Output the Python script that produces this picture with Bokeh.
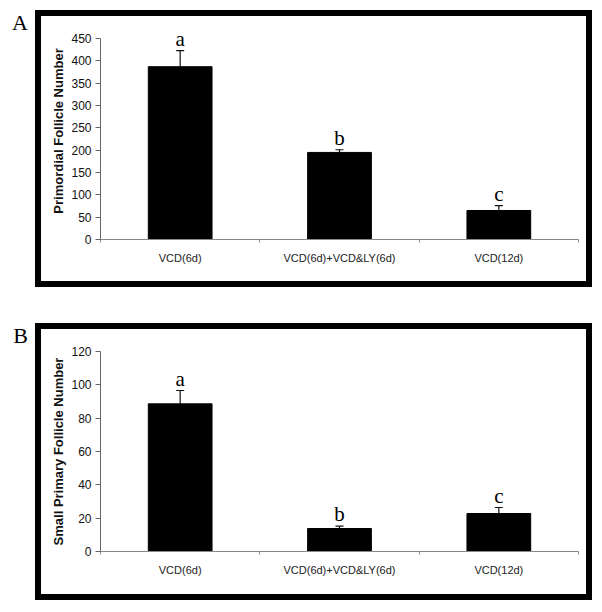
from bokeh.plotting import figure
from bokeh.models import (FixedTicker, Whisker, TeeHead, ColumnDataSource,
                          Range1d, Div)
from bokeh.layouts import column, row
from bokeh.embed import file_html
from bokeh.resources import INLINE
from bokeh.core.properties import value

# ---------------- data ----------------
categories = ["VCD(6d)", "VCD(6d)+VCD&LY(6d)", "VCD(12d)"]
sig_letters = ["a", "b", "c"]

primordial_mean = [387, 195, 65]
primordial_err = [36, 6, 11]
primordial_ticks = [0, 50, 100, 150, 200, 250, 300, 350, 400, 450]

small_primary_mean = [88.6, 13.8, 22.8]
small_primary_err = [8.0, 1.4, 3.6]
small_primary_ticks = [0, 20, 40, 60, 80, 100, 120]

panel_labels = ["A", "B"]
y_titles = ["Primordial Follicle Number", "Small Primary Follicle Number"]

SANS = "Liberation Sans"
SERIF = "Liberation Serif"


def make_panel(mean, err, yticks, ytitle, y_end, b_top, b_bottom):
    xs = list(range(1, len(categories) + 1))
    upper = [m + e for m, e in zip(mean, err)]
    src = ColumnDataSource(dict(x=xs, top=mean, upper=upper, letter=sig_letters))

    p = figure(width=545, height=265,
               x_range=Range1d(0.5, len(categories) + 0.5),
               y_range=Range1d(0, y_end),
               output_backend="svg", toolbar_location=None,
               min_border_left=59, min_border_right=8,
               min_border_top=b_top, min_border_bottom=b_bottom,
               styles={"outline": "6px solid black"})
    p.outline_line_color = None
    p.xgrid.visible = False
    p.ygrid.visible = False
    p.background_fill_color = "white"
    p.border_fill_color = "white"

    p.vbar(x="x", top="top", bottom=0, width=0.4, source=src,
           fill_color="black", line_color="black")
    w = Whisker(base="x", upper="upper", lower="top", source=src,
                line_color="#111111", line_width=1.2,
                upper_head=TeeHead(size=8, line_color="#111111", line_width=1.2),
                lower_head=None)
    p.add_layout(w)
    p.text(x="x", y="upper", text="letter", source=src, y_offset=-12,
           text_align="center", text_baseline="alphabetic",
           text_font=value(SERIF), text_font_size="21px", text_color="black")

    # x axis
    xa = p.xaxis[0]
    xa.ticker = FixedTicker(ticks=xs,
                            minor_ticks=[i + 0.5 for i in range(0, len(categories) + 1)])
    xa.major_label_overrides = {x: c for x, c in zip(xs, categories)}
    xa.major_tick_line_color = None
    xa.major_tick_out = 0
    xa.major_tick_in = 0
    xa.minor_tick_in = 0
    xa.minor_tick_out = 3
    xa.minor_tick_line_color = "#888888"
    xa.axis_line_color = "#888888"
    xa.major_label_standoff = 9
    xa.major_label_text_font = SANS
    xa.major_label_text_font_size = "11px"
    xa.major_label_text_color = "#222222"

    # y axis
    ya = p.yaxis[0]
    ya.ticker = FixedTicker(ticks=yticks)
    ya.bounds = (yticks[0], yticks[-1])
    ya.minor_tick_line_color = None
    ya.major_tick_in = 0
    ya.major_tick_out = 5
    ya.major_tick_line_color = "#666666"
    ya.axis_line_color = "#666666"
    ya.major_label_standoff = 4
    ya.major_label_text_font = SANS
    ya.major_label_text_font_size = "12px"
    ya.major_label_text_color = "#111111"
    ya.axis_label = ytitle
    ya.axis_label_text_font = SANS
    ya.axis_label_text_font_style = "bold"
    ya.axis_label_text_font_size = "13px"
    ya.axis_label_text_color = "#111111"
    ya.axis_label_standoff = 2
    return p


def panel_letter(text):
    return Div(text=text, width=41, height=30, margin=0,
               styles={"font-family": SERIF, "font-size": "22px",
                       "line-height": "14px", "color": "black",
                       "text-align": "right", "padding-right": "13px",
                       "box-sizing": "border-box", "overflow": "visible"})


# panel A: the frame reaches above 450 so the letter over the first bar is not cut off
pA = make_panel(primordial_mean, primordial_err, primordial_ticks, y_titles[0],
                486, 6, 42)
pB = make_panel(small_primary_mean, small_primary_err, small_primary_ticks, y_titles[1],
                120, 22, 43)

rowA = row(panel_letter(panel_labels[0]), pA, margin=(16, 0, 0, 0))
rowB = row(panel_letter(panel_labels[1]), pB, margin=(48, 0, 0, 0))
layout = column(rowA, rowB, spacing=0)
open("out.html", "w").write(file_html(layout, INLINE))
